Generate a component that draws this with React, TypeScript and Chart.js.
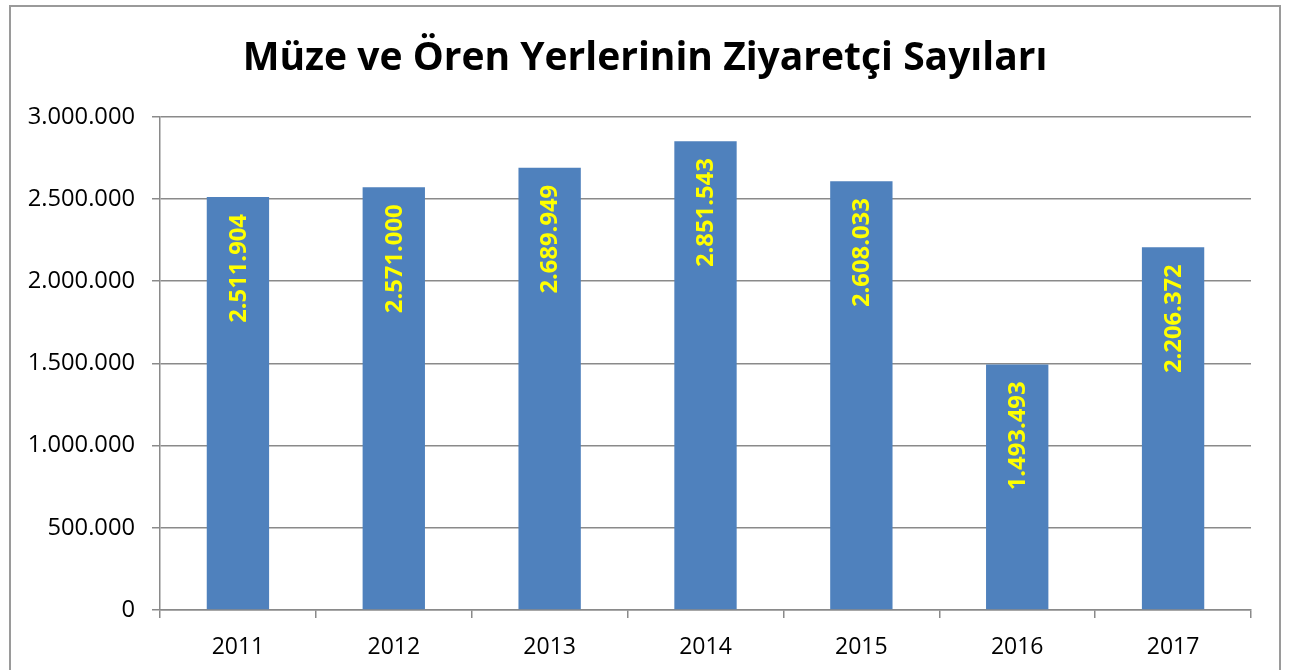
import React, { useEffect, useRef } from "react";
import { Chart, registerables } from "chart.js";

Chart.register(...registerables);

const categories = ["2011", "2012", "2013", "2014", "2015", "2016", "2017"];
const visitors = [2511904, 2571000, 2689949, 2851543, 2608033, 1493493, 2206372];
const titleText = "Müze ve Ören Yerlerinin Ziyaretçi Sayıları";

const FONT = "'Open Sans', 'Liberation Sans', Arial, sans-serif";

const fmt = (v: number) => String(Math.round(v)).replace(/\B(?=(\d{3})+(?!\d))/g, ".");

const borderPlugin = {
  id: "outerBorder",
  beforeDraw(chart: any) {
    const ctx = chart.ctx;
    ctx.save();
    ctx.fillStyle = "#ffffff";
    ctx.fillRect(0, 0, chart.width, chart.height);
    ctx.strokeStyle = "#9a9a9a";
    ctx.lineWidth = 2;
    ctx.strokeRect(10, 6, 1270, 720);
    ctx.restore();
  },
};

const labelPlugin = {
  id: "barLabels",
  afterDatasetsDraw(chart: any) {
    const ctx = chart.ctx;
    const meta = chart.getDatasetMeta(0);
    const data = chart.data.datasets[0].data as number[];
    ctx.save();
    ctx.fillStyle = "#ffff00";
    ctx.font = "bold 23.8px " + FONT;
    ctx.textAlign = "right";
    ctx.textBaseline = "middle";
    meta.data.forEach((bar: any, i: number) => {
      ctx.save();
      ctx.translate(bar.x + 1, bar.y + 17);
      ctx.rotate(-Math.PI / 2);
      ctx.fillText(fmt(data[i]), 0, 0);
      ctx.restore();
    });
    ctx.restore();
  },
};

export default function App() {
  const ref = useRef<HTMLCanvasElement | null>(null);
  useEffect(() => {
    if (!ref.current) return;
    const chart = new Chart(ref.current, {
      type: "bar",
      data: {
        labels: categories,
        datasets: [
          {
            data: visitors,
            backgroundColor: "#4f81bd",
            borderWidth: 0,
            barPercentage: 0.4,
            categoryPercentage: 1,
            yAxisID: "y",
          },
        ],
      },
      options: {
        responsive: false,
        animation: false,
        devicePixelRatio: 1,
        layout: { padding: { left: 0, right: 5, top: 0, bottom: 0 } },
        plugins: {
          legend: { display: false },
          tooltip: { enabled: false },
          title: {
            display: true,
            text: titleText,
            color: "#000000",
            font: { family: FONT, size: 39, weight: "bold" },
            padding: { top: 35, bottom: 35 },
          },
        },
        scales: {
          x: {
            offset: true,
            grid: {
              offset: true,
              drawOnChartArea: false,
              drawTicks: true,
              tickLength: 8,
              color: "#8a8a8a",
              lineWidth: 1.5,
            },
            border: { color: "#8a8a8a", width: 1.5 },
            ticks: {
              color: "#000000",
              font: { family: FONT, size: 23 },
              padding: 16,
            },
            afterFit: (s: any) => {
              s.height = 60;
            },
          },
          y: {
            min: 0,
            max: 3000000,
            ticks: {
              stepSize: 500000,
              color: "#000000",
              font: { family: FONT, size: 23.7 },
              padding: 17,
              callback: (v: any) => fmt(Number(v)),
            },
            grid: { color: "#8a8a8a", lineWidth: 1.5, tickLength: 8 },
            border: { color: "#8a8a8a", width: 1.5 },
            afterFit: (s: any) => {
              s.width = 160;
            },
          },
          yRight: {
            position: "right",
            min: 0,
            max: 1,
            ticks: { display: false },
            grid: { display: false, drawOnChartArea: false },
            border: { display: false },
            afterFit: (s: any) => {
              s.width = 39;
            },
          },
        },
      },
      plugins: [borderPlugin, labelPlugin],
    });
    return () => chart.destroy();
  }, []);
  return (
    <div style={{ position: "absolute", left: 0, top: 0, width: 1295, height: 670 }}>
      <canvas ref={ref} width={1295} height={670} style={{ display: "block" }} />
    </div>
  );
}
